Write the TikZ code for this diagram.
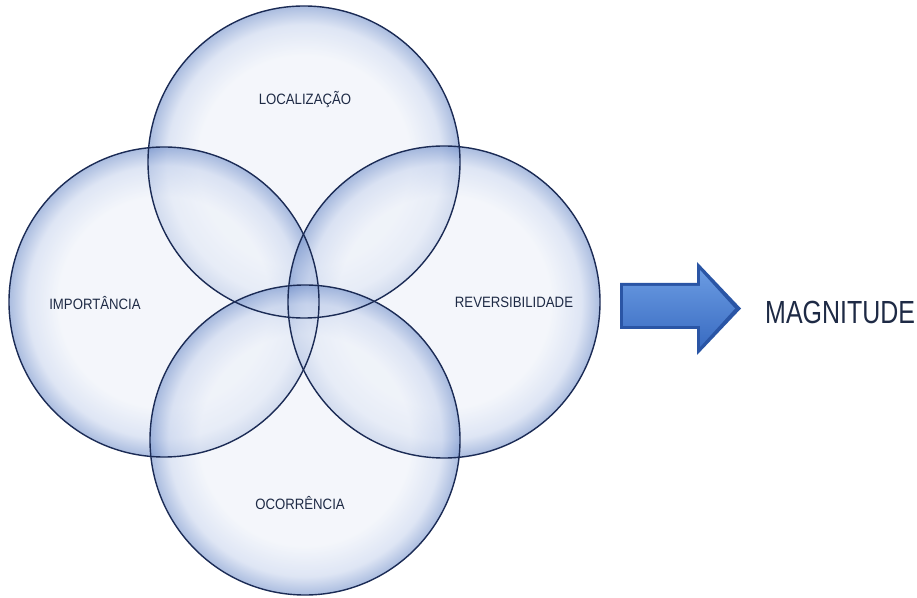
\documentclass[tikz,border=0pt]{standalone}
\usepackage{fontspec}
\setmainfont{Liberation Sans}
\newfontfamily\lblfont[FakeStretch=0.88]{Liberation Sans}
\newfontfamily\magfont[FakeStretch=0.78]{Liberation Sans}
\definecolor{bin}{HTML}{EDF1F9}
\definecolor{bmid}{HTML}{C9D5EE}
\definecolor{bout}{HTML}{7391CB}
\definecolor{rim}{HTML}{1B2B55}
\definecolor{txt}{HTML}{1E2A45}
\definecolor{arrA}{HTML}{6A9BE2}
\definecolor{arrB}{HTML}{3A6CC2}
\definecolor{arrC}{HTML}{2A55A5}
\pgfdeclareradialshading{bubble}{\pgfpoint{0bp}{0bp}}{color(0bp)=(bin); color(17bp)=(bin); color(22bp)=(bmid); color(25bp)=(bout); color(50bp)=(bout)}
\begin{document}
\begin{tikzpicture}[x=1pt,y=1pt,
  bub/.style={shading=bubble, fill opacity=0.6},
  rimline/.style={draw=rim, line width=1.4pt},
  lbl/.style={text=txt, font=\lblfont\fontsize{15}{17}\selectfont, inner sep=0pt}]
\useasboundingbox (0,0) rectangle (917,597);
\fill[white] (0,0) rectangle (917,597);
% circles
\coordinate (ct) at (304,435);
\coordinate (cl) at (164,295);
\coordinate (cr) at (444,295);
\coordinate (cb) at (305,157);
\foreach \c/\r in {ct/156, cl/155, cr/156, cb/155}{
  \shade[bub] (\c) circle[radius=\r];
}
\foreach \c/\r in {ct/156, cl/155, cr/156, cb/155}{
  \draw[rimline] (\c) circle[radius=\r];
}
% labels
\node[lbl] (loc) at (305,497) {LOCALIZAÇÃO};
\node[lbl] (imp) at (95,294) {IMPORTÂNCIA};
\node[lbl] (rev) at (514,295) {REVERSIBILIDADE};
\node[lbl] (oco) at (300,94) {OCORRÊNCIA};
% arrow
\fill[arrC] (620,314) -- (697,314) -- (697,335) -- (741,288.5) -- (697,242) -- (697,268) -- (620,268) -- cycle;
\shade[top color=arrA, bottom color=arrB] (623,311) -- (700,311) -- (700,327) -- (735,288.5) -- (700,250) -- (700,271) -- (623,271) -- cycle;
\node[text=txt, font=\magfont\fontsize{32}{36}\selectfont, anchor=west, inner sep=0pt] (mag) at (765,285) {MAGNITUDE};
\end{tikzpicture}
\end{document}
